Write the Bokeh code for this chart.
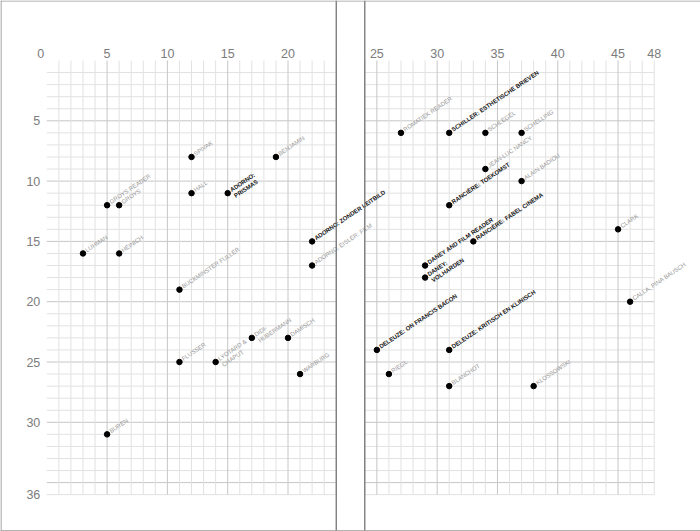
import math
from bokeh.plotting import figure
from bokeh.models import ColumnDataSource, Range1d, Span
from bokeh.core.properties import value
from bokeh.embed import file_html
from bokeh.resources import INLINE

# ---------------- data ----------------
left_labels = ["SPIVAK", "BENJAMIN", "HALL", "ADORNO:\nPRISMAS", "GROYS READER", "GROYS",
               "LUHMAN", "HEINICH", "BUCKMINSTER FULLER", "ADORNO: ZONDER LEITBILD",
               "ADORNO, EISLER: FILM", "DIDI-\nHUBERMANN", "DAMISCH", "FLUSSER",
               "LYOTARD &\nCHAPUT", "WARBURG", "BUREN"]
left_x = [12, 19, 12, 15, 5, 6, 3, 6, 11, 22, 22, 17, 20, 11, 14, 21, 5]
left_y = [8, 8, 11, 11, 12, 12, 16, 16, 19, 15, 17, 23, 23, 25, 25, 26, 31]
left_bold = [0, 0, 0, 1, 0, 0, 0, 0, 0, 1, 0, 0, 0, 0, 0, 0, 0]

right_labels = ["ROMATIEK READER", "SCHILLER: ESTHETISCHE BRIEVEN", "SCHLEGEL", "SCHELLING",
                "JEAN-LUC NANCY", "ALAIN BADIOU", "RANCIÈRE: TOEKOMST", "CLARK",
                "RANCIÈRE: FABEL CINEMA", "DANEY AND FILM READER", "DANEY:\nVOLHARDEN",
                "CALLA, PINA BAUSCH", "DELEUZE: ON FRANCIS BACON",
                "DELEUZE: KRITISCH EN KLINISCH", "RIEGL", "BLANCHOT", "KLOSSOWSKI"]
right_x = [27, 31, 34, 37, 34, 37, 31, 45, 33, 29, 29, 46, 25, 31, 26, 31, 38]
right_y = [6, 6, 6, 6, 9, 10, 12, 14, 15, 17, 18, 20, 24, 24, 26, 27, 27]
right_bold = [0, 1, 0, 0, 0, 0, 1, 0, 1, 1, 1, 0, 1, 1, 0, 0, 0]

left_xticks = [0, 5, 10, 15, 20]
right_xticks = [25, 30, 35, 40, 45, 48]
yticks = [5, 10, 15, 20, 25, 30, 36]

# ---------------- layout constants ----------------
W, H = 700, 531
S = 12.06            # px per unit
X0 = 46.3            # px of x=0
Y0 = 60.0            # px of y=0
GAP = (364.3 - (X0 + 24 * S)) / S   # gutter between pages in units
PAGE = 24
XMAX, YMAX = 48, 36
ANG = math.radians(34)
FS = 6.0
LH = 1.2

p = figure(width=W, height=H, output_backend="svg", toolbar_location=None,
           x_axis_location=None, y_axis_location=None, min_border=0,
           x_range=Range1d(-X0 / S, (W - X0) / S),
           y_range=Range1d((H - Y0) / S, -Y0 / S))
p.grid.visible = False
p.outline_line_color = None
p.background_fill_color = "white"
p.border_fill_color = "white"

MINOR = "#e2e2e2"
MAJOR = "#c6c6c6"

def shift(x):
    return x + GAP if x >= PAGE else x

# grid lines
for lo, hi in [(0, PAGE), (PAGE, XMAX)]:
    xs0 = shift(lo) if lo else lo
    xs1 = shift(hi) if lo else hi
    minor_h = [v for v in range(0, YMAX + 1) if v % 5 != 0]
    major_h = [v for v in range(0, YMAX + 1) if v % 5 == 0 and v > 0]
    p.segment(x0=[xs0] * len(minor_h), x1=[xs1] * len(minor_h), y0=minor_h, y1=minor_h,
              line_color=MINOR, line_width=1)
    p.segment(x0=[xs0] * len(major_h), x1=[xs1] * len(major_h), y0=major_h, y1=major_h,
              line_color=MAJOR, line_width=1)
    vx = list(range(lo, hi + 1))
    minor_v = [shift(v) if lo else v for v in vx if v % 5 != 0]
    major_v = [shift(v) if lo else v for v in vx if v % 5 == 0 and v > 0]
    p.segment(x0=minor_v, x1=minor_v, y0=[0] * len(minor_v), y1=[YMAX] * len(minor_v),
              line_color=MINOR, line_width=1)
    p.segment(x0=major_v, x1=major_v, y0=[0] * len(major_v), y1=[YMAX] * len(major_v),
              line_color=MAJOR, line_width=1)

# page borders / gutter
for loc in [PAGE, PAGE + GAP]:
    p.add_layout(Span(location=loc, dimension="height", line_color="#6a6a6a", line_width=1.2))
p.add_layout(Span(location=-X0 / S + 0.04, dimension="height", line_color="#9a9a9a", line_width=1.2))
p.add_layout(Span(location=-Y0 / S + 0.04, dimension="width", line_color="#9a9a9a", line_width=1.2))
p.add_layout(Span(location=(H - Y0) / S - 0.06, dimension="width", line_color="#9a9a9a", line_width=1.2))

# tick labels
xt = left_xticks + right_xticks
xt_pos = [shift(v) if v > PAGE else v for v in xt]
xt_off = [-6 if v == 0 else 0 for v in xt]
p.text(x=xt_pos, y=[-7 / S] * len(xt), text=[str(v) for v in xt], x_offset=xt_off,
       text_font=value("Liberation Sans"), text_font_size="12.5px", text_color="#7c7c7c",
       text_align="center", text_baseline="middle")
p.text(x=[-6.5 / S] * len(yticks), y=yticks, text=[str(v) for v in yticks],
       text_font=value("Liberation Sans"), text_font_size="12.5px", text_color="#7c7c7c",
       text_align="right", text_baseline="middle")

# points
labels = left_labels + right_labels
px = left_x + [shift(v) for v in right_x]
py = left_y + right_y
bold = left_bold + right_bold

half = FS * LH / 2
along = 4.0
dx = along * math.cos(ANG) - half * math.sin(ANG)
dy = -along * math.sin(ANG) - half * math.cos(ANG)

for flag, color, style in [(0, "#959595", "normal"), (1, "#111111", "bold")]:
    idx = [i for i, b in enumerate(bold) if b == flag]
    src = ColumnDataSource(dict(x=[px[i] for i in idx], y=[py[i] for i in idx],
                                t=[labels[i] for i in idx]))
    p.text(x="x", y="y", text="t", source=src, angle=ANG, x_offset=dx, y_offset=dy,
           text_font=value("Liberation Sans"), text_font_size=f"{FS}px",
           text_font_style=style, text_color=color, text_align="left",
           text_baseline="top", text_line_height=LH)

p.scatter(x=px, y=py, size=5.5, color="black")

open("out.html", "w").write(file_html(p, INLINE))
